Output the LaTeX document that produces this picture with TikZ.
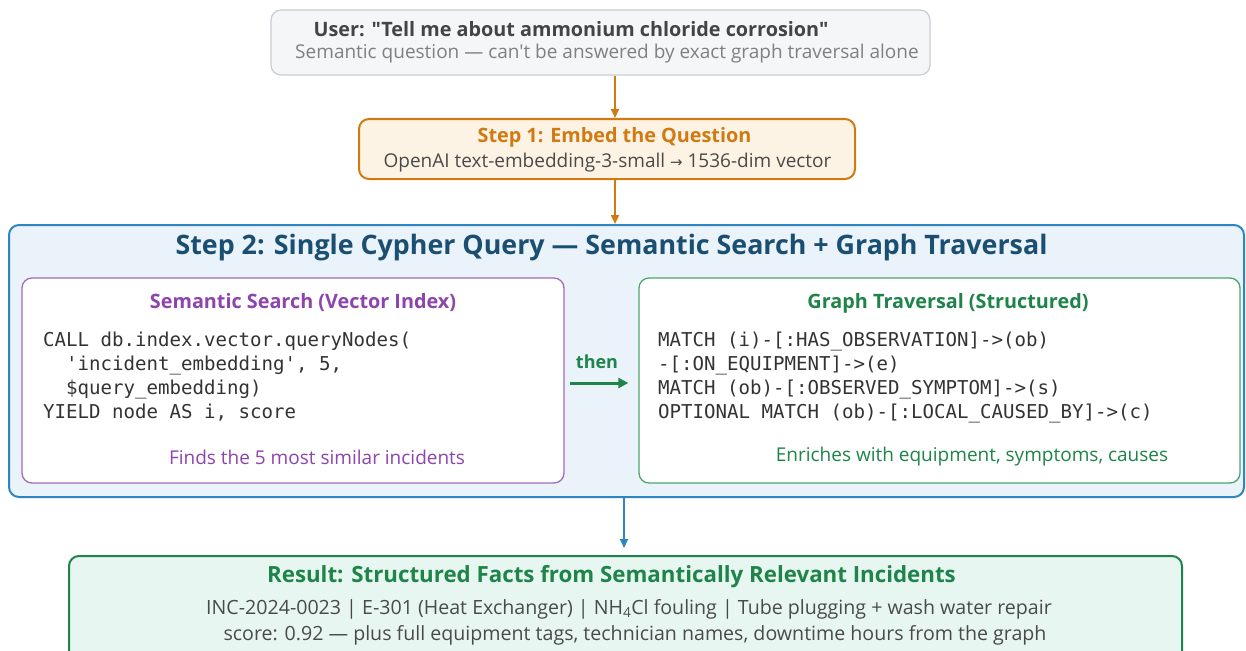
\documentclass[tikz,border=0pt]{standalone}
\usepackage{fontspec}
\setmainfont{Open Sans}[Ligatures=TeXOff]
\setmonofont{DejaVu Sans Mono}
\newfontfamily\symfont{DejaVu Sans}
\usetikzlibrary{arrows.meta}

\definecolor{usrfill}{HTML}{F5F6F8}
\definecolor{usrdraw}{HTML}{C9CDD2}
\definecolor{usrtext}{HTML}{444444}
\definecolor{graytext}{HTML}{808080}
\definecolor{bodytext}{HTML}{4A4A4A}
\definecolor{orng}{HTML}{D17A12}
\definecolor{orngfill}{HTML}{FDF3E4}
\definecolor{blu}{HTML}{2E86C1}
\definecolor{blufill}{HTML}{EAF2FA}
\definecolor{navy}{HTML}{1B4F72}
\definecolor{purp}{HTML}{8E44AD}
\definecolor{purpdraw}{HTML}{A569BD}
\definecolor{grn}{HTML}{1E8449}
\definecolor{grndraw}{HTML}{4FA56E}
\definecolor{resfill}{HTML}{E8F6F1}
\definecolor{codetext}{HTML}{333333}

\tikzset{
  panel/.style={draw, rounded corners=10pt, inner sep=0pt},
  flow/.style={-{Triangle[length=9pt,width=8pt]}, line width=2pt},
  ttl/.style={font=\bfseries\fontsize{19.8}{24}\selectfont, inner sep=0pt},
  txt/.style={font=\fontsize{19}{23}\selectfont, inner sep=0pt},
  code/.style={font=\ttfamily\fontsize{19.1}{24}\selectfont, text=codetext, align=left, anchor=north west, inner sep=0pt},
}

\begin{document}
\begin{tikzpicture}[x=1pt,y=-1pt]
\useasboundingbox (0,0) rectangle (1246,650);
\clip (0,0) rectangle (1246,650);
\fill[white] (0,0) rectangle (1246,650);

% user question
\node[panel, fill=usrfill, draw=usrdraw, line width=1.2pt, minimum width=659pt, minimum height=65pt] (user) at (600.5,42.5) {};
\node[ttl, text=usrtext] (usert) at (571,29) {User: "Tell me about ammonium chloride corrosion"};
\node[txt, text=graytext] (users) at (607,54) {Semantic question — can't be answered by exact graph traversal alone};

% step 1
\node[panel, fill=orngfill, draw=orng, line width=2pt, minimum width=496pt, minimum height=60pt] (s1) at (607,149) {};
\node[ttl, text=orng] (s1t) at (614.5,137) {Step 1: Embed the Question};
\node[txt, text=bodytext] (s1s) at (607.5,163) {OpenAI text-embedding-3-small {\symfont\fontsize{15}{18}\selectfont→} 1536-dim vector};

% step 2 container
\node[panel, fill=blufill, draw=blu, line width=2pt, minimum width=1235pt, minimum height=272pt] (s2) at (626.5,361) {};
\node[font=\bfseries\fontsize{26.8}{30}\selectfont, text=navy, inner sep=0pt] (s2t) at (611.5,248) {Step 2: Single Cypher Query — Semantic Search + Graph Traversal};

% semantic search panel
\node[panel, fill=white, draw=purpdraw, line width=1.3pt, minimum width=542pt, minimum height=205pt] (sem) at (293,380.5) {};
\node[ttl, text=purp] (semt) at (303,303) {Semantic Search (Vector Index)};
\node[code] (semc) at (43,332) {CALL db.index.vector.queryNodes(\\
\ \ 'incident\_embedding', 5,\\
\ \ \$query\_embedding)\\
YIELD node AS i, score};
\node[txt, text=purp] (semf) at (317,457) {Finds the 5 most similar incidents};

% graph traversal panel
\node[panel, fill=white, draw=grndraw, line width=1.3pt, minimum width=601pt, minimum height=205pt] (gt) at (939.5,380.5) {};
\node[ttl, text=grn] (gtt) at (948,303) {Graph Traversal (Structured)};
\node[code] (gtc) at (658,332) {MATCH (i)-[:HAS\_OBSERVATION]->(ob)\\
-[:ON\_EQUIPMENT]->(e)\\
MATCH (ob)-[:OBSERVED\_SYMPTOM]->(s)\\
OPTIONAL MATCH (ob)-[:LOCAL\_CAUSED\_BY]->(c)};
\node[txt, text=grn] (gtf) at (972,457) {Enriches with equipment, symptoms, causes};

% sequence between the two panels
\node[font=\bfseries\fontsize{18}{21}\selectfont, text=grn, inner sep=0pt] (then) at (597,362) {then};
\draw[flow, grn, line width=3pt, -{Triangle[length=10pt,width=10pt]}, shorten <=5pt, shorten >=10pt] (sem.east |- 0,383) -- (gt.west |- 0,383);

% result
\node[panel, fill=resfill, draw=grn, line width=2pt, minimum width=1113pt, minimum height=110pt] (res) at (625.5,611) {};
\node[font=\bfseries\fontsize{22.3}{26}\selectfont, text=grn, inner sep=0pt] (rest) at (611.5,577) {Result: Structured Facts from Semantically Relevant Incidents};
\node[txt, text=bodytext, font=\fontsize{19.6}{23}\selectfont] (res1) at (629,609) {INC-2024-0023 | E-301 (Heat Exchanger) | NH\textsubscript{4}Cl fouling | Tube plugging + wash water repair};
\node[txt, text=bodytext, font=\fontsize{19.6}{23}\selectfont] (res2) at (635,635) {score: 0.92 — plus full equipment tags, technician names, downtime hours from the graph};

% connectors
\coordinate (ax) at (615,0);
\coordinate (bx) at (624,0);
\draw[flow, orng] (user.south -| ax) -- (s1.north -| ax);
\draw[flow, orng] (s1.south -| ax) -- (s2.north -| ax);
\draw[flow, blu] (s2.south -| bx) -- ([yshift=7pt]res.north -| bx);
\end{tikzpicture}
\end{document}
